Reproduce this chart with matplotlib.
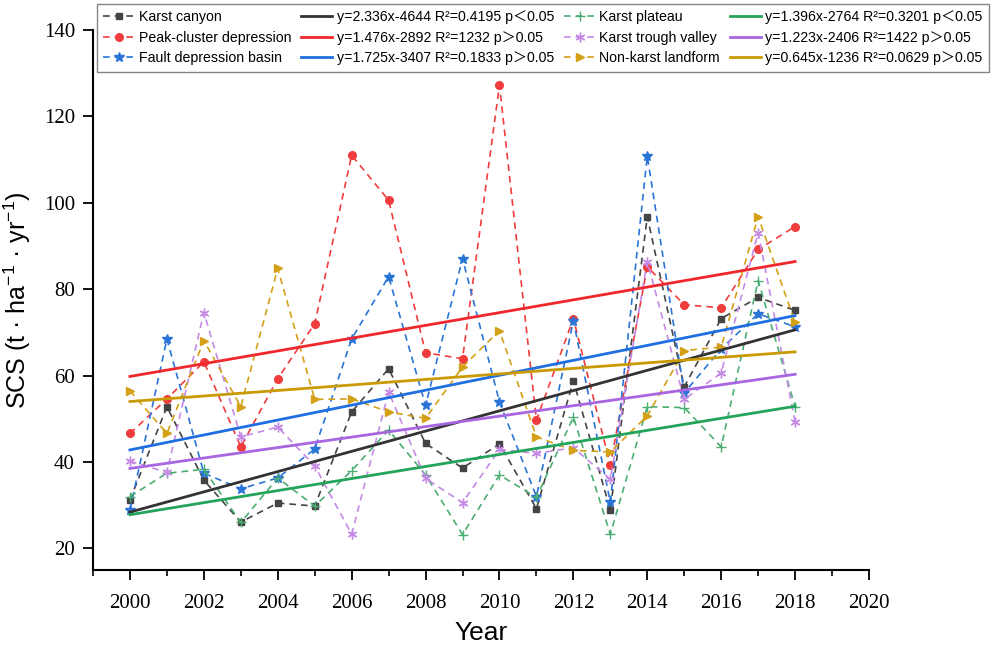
import matplotlib
matplotlib.use('Agg')
import matplotlib.pyplot as plt
from matplotlib.ticker import MultipleLocator

plt.rcParams['mathtext.default'] = 'regular'

years = list(range(2000, 2019))

karst_canyon = [31.2, 52.8, 35.8, 26.1, 30.5, 29.8, 51.6, 61.6, 44.3, 38.6,
                44.2, 29.2, 58.8, 28.9, 96.8, 57.4, 73.2, 78.1, 75.1]
peak_cluster = [46.6, 54.6, 63.2, 43.5, 59.3, 72.0, 111.0, 100.6, 65.3, 63.9,
                127.2, 49.7, 73.2, 39.3, 85.2, 76.4, 75.7, 89.2, 94.5]
fault_basin = [28.9, 68.5, 37.4, 33.8, 36.3, 43.0, 68.5, 82.9, 53.1, 87.1,
               53.9, 32.0, 72.7, 30.7, 110.8, 56.0, 66.2, 74.3, 71.3]
karst_plateau = [32.0, 37.4, 38.3, 26.0, 36.3, 29.8, 38.0, 47.4, 37.0, 23.2,
                 37.0, 31.8, 50.4, 23.3, 52.8, 52.6, 43.5, 82.0, 52.8]
karst_trough = [40.2, 37.6, 74.6, 45.8, 48.1, 39.1, 23.3, 56.2, 36.2, 30.6,
                42.9, 42.0, 43.3, 36.0, 86.4, 54.5, 60.6, 93.1, 49.3]
non_karst = [56.5, 46.6, 68.1, 52.8, 84.8, 54.5, 54.6, 51.6, 50.1, 62.0,
             70.4, 45.8, 42.7, 42.3, 50.7, 65.8, 66.6, 96.8, 72.3]

names = ["Karst canyon", "Peak-cluster depression", "Fault depression basin",
         "Karst plateau", "Karst trough valley", "Non-karst landform"]
series = [karst_canyon, peak_cluster, fault_basin, karst_plateau, karst_trough, non_karst]

# fitted lines, value at first and last year
trend_start = [28.4, 59.8, 42.8, 27.8, 38.5, 54.0]
trend_end = [70.6, 86.4, 73.9, 52.9, 60.3, 65.5]
trend_labels = [
    "y=2.336x-4644 R²=0.4195 p＜0.05",
    "y=1.476x-2892 R²=1232 p＞0.05",
    "y=1.725x-3407 R²=0.1833 p＞0.05",
    "y=1.396x-2764 R²=0.3201 p＜0.05",
    "y=1.223x-2406 R²=1422 p＞0.05",
    "y=0.645x-1236 R²=0.0629 p＞0.05",
]

dash_colors = ['#444444', '#f03c3c', '#2a74d8', '#4aae72', '#c48ae6', '#d4a017']
fit_colors = ['#333333', '#f0282d', '#1f6fe0', '#23a45a', '#a866e0', '#c99a06']
markers = ['s', 'o', '*', '+', (6, 2, 0), '>']
msizes = [5, 5.5, 7.5, 7, 7, 6]

fig = plt.figure(figsize=(9.92, 6.46), dpi=100)
ax = fig.add_axes([93/992, 76/646, 776/992, 540/646])

data_handles = []
fit_handles = []
for i in range(6):
    h, = ax.plot(years, series[i], linestyle=(0, (4, 3)), color=dash_colors[i],
                 linewidth=1.2, marker=markers[i], markersize=msizes[i],
                 markeredgewidth=1.0, label=names[i])
    data_handles.append(h)
for i in range(6):
    h, = ax.plot([years[0], years[-1]], [trend_start[i], trend_end[i]],
                 color=fit_colors[i], linewidth=2, label=trend_labels[i])
    fit_handles.append(h)

ax.set_xlim(1999, 2020)
ax.set_ylim(15, 140)
ax.xaxis.set_major_locator(MultipleLocator(2))
ax.xaxis.set_minor_locator(MultipleLocator(1))
ax.set_yticks([20, 40, 60, 80, 100, 120, 140])

for s in ['top', 'right']:
    ax.spines[s].set_visible(False)
for s in ['left', 'bottom']:
    ax.spines[s].set_linewidth(1.5)

ax.tick_params(axis='both', which='major', direction='out', length=7, width=1.3, pad=6)
ax.tick_params(axis='x', which='major', pad=10)
ax.tick_params(axis='x', which='minor', direction='out', length=4, width=1.2)
for lab in ax.get_xticklabels() + ax.get_yticklabels():
    lab.set_fontfamily('Liberation Serif')
    lab.set_fontsize(15)

ax.set_xlabel("Year", fontsize=19, fontfamily='Liberation Sans', labelpad=6)
ax.set_ylabel("SCS (t · ha$^{-1}$ · yr$^{-1}$)", fontsize=18,
              fontfamily='Liberation Sans', labelpad=8)

order = data_handles[:3] + fit_handles[:3] + data_handles[3:] + fit_handles[3:]
leg = fig.legend(order, [h.get_label() for h in order], ncol=4,
                 loc='upper left', bbox_to_anchor=(97/992, 1 - 4/646),
                 prop={'family': ['Liberation Sans', 'Noto Sans CJK SC'], 'size': 10.2},
                 frameon=True, fancybox=False, edgecolor='#666666',
                 handlelength=2.2, handletextpad=0.3, columnspacing=0.7,
                 borderpad=0.45, labelspacing=0.45, borderaxespad=0)
leg.get_frame().set_linewidth(1.0)

fig.savefig('out.png', dpi=100)
